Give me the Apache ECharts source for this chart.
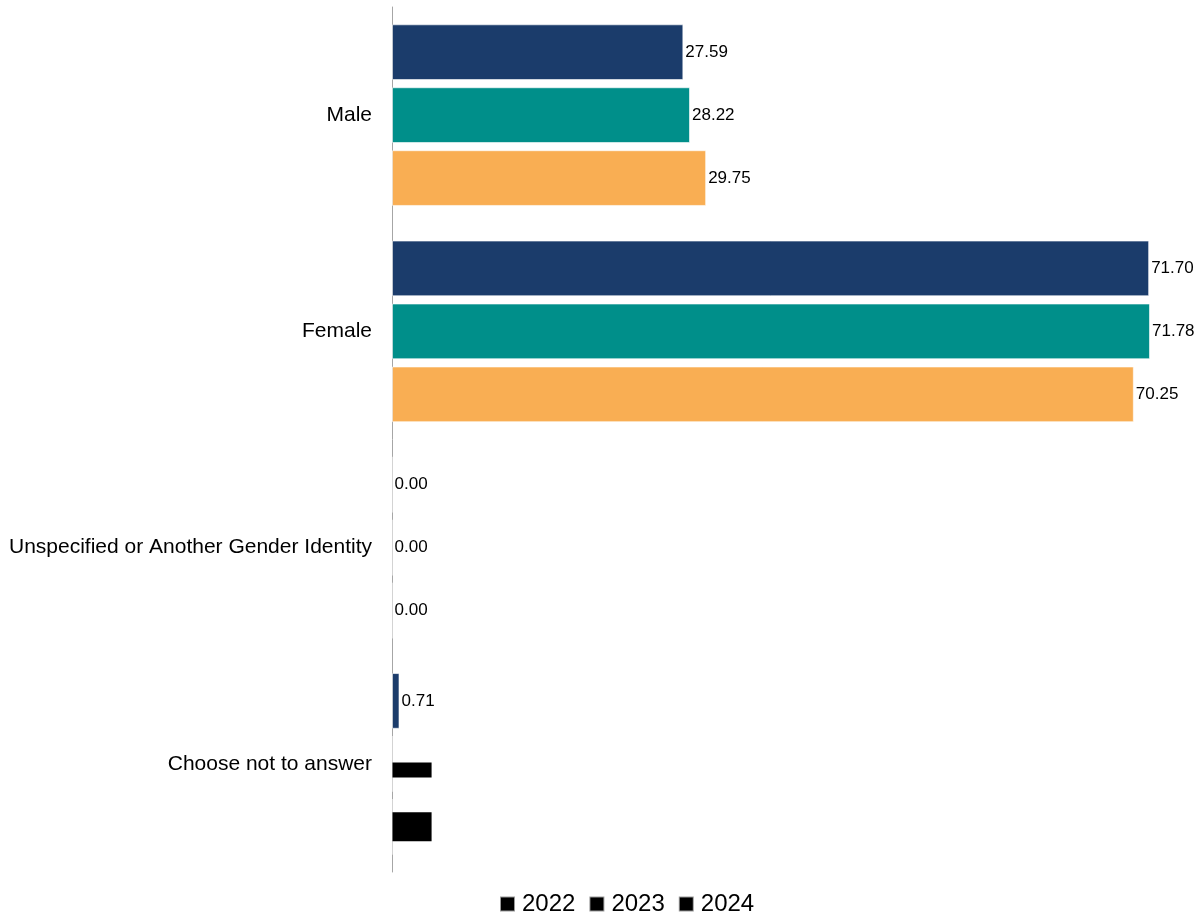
<!DOCTYPE html>
<html>
<head>
<meta charset="utf-8">
<script src="https://cdn.jsdelivr.net/npm/echarts@6/dist/echarts.min.js"></script>
<style>html,body{margin:0;padding:0;background:#fff}#c{width:1202px;height:919px}</style>
</head>
<body>
<div id="c"></div>
<script>
const categories = ['Male', 'Female', 'Unspecified or Another Gender Identity', 'Choose not to answer'];
const years = ['2022', '2023', '2024'];
const values2022 = [27.59, 71.70, 0.00, 0.71];
const values2023 = [28.22, 71.78, 0.00, 0.00];
const values2024 = [29.75, 70.25, 0.00, 0.00];
const colors = ['#1b3c6b', '#008f8a', '#f9ae53'];

const FONT = '"Liberation Sans", Arial, sans-serif';
const chart = echarts.init(document.getElementById('c'));

function makeData(vals, seriesIdx) {
  return vals.map((v, i) => {
    const d = { value: v };
    // the reference shows black boxes over the last two labels
    if (i === 3 && seriesIdx === 1) {
      d.label = { backgroundColor: '#000', color: '#000', lineHeight: 15, padding: [0, 3], offset: [0, 6], distance: 0 };
    }
    if (i === 3 && seriesIdx === 2) {
      d.label = { backgroundColor: '#000', color: '#000', lineHeight: 19, padding: [5, 3], distance: 0 };
    }
    return d;
  });
}

const allVals = [values2022, values2023, values2024];
chart.setOption({
  animation: false,
  color: colors,
  grid: { left: 392, right: 18, top: 7, bottom: 47, containLabel: false },
  legend: {
    bottom: -2,
    left: 494,
    itemWidth: 15,
    itemHeight: 15,
    itemGap: 13,
    icon: 'rect',
    itemStyle: { color: '#000' },
    textStyle: { fontFamily: FONT, fontSize: 24, color: '#000', padding: [0, 0, 0, 2] },
    data: years
  },
  xAxis: {
    type: 'value',
    min: 0,
    max: 75,
    show: false
  },
  yAxis: {
    type: 'category',
    inverse: true,
    data: categories,
    axisLine: { show: true, lineStyle: { color: '#a6a6a6', width: 1 } },
    axisTick: { show: false },
    axisLabel: { fontFamily: FONT, fontSize: 21, color: '#000', margin: 20 }
  },
  series: years.map((y, si) => ({
    name: y,
    type: 'bar',
    barGap: '13%',
    barCategoryGap: '16%',
    itemStyle: { color: colors[si], borderColor: 'rgba(255,255,255,0.6)', borderWidth: 1 },
    label: {
      show: true,
      position: 'right',
      distance: 2,
      fontFamily: FONT,
      fontSize: 17,
      color: '#000',
      formatter: p => p.value.toFixed(2)
    },
    data: makeData(allVals[si], si)
  }))
});
</script>
</body>
</html>
